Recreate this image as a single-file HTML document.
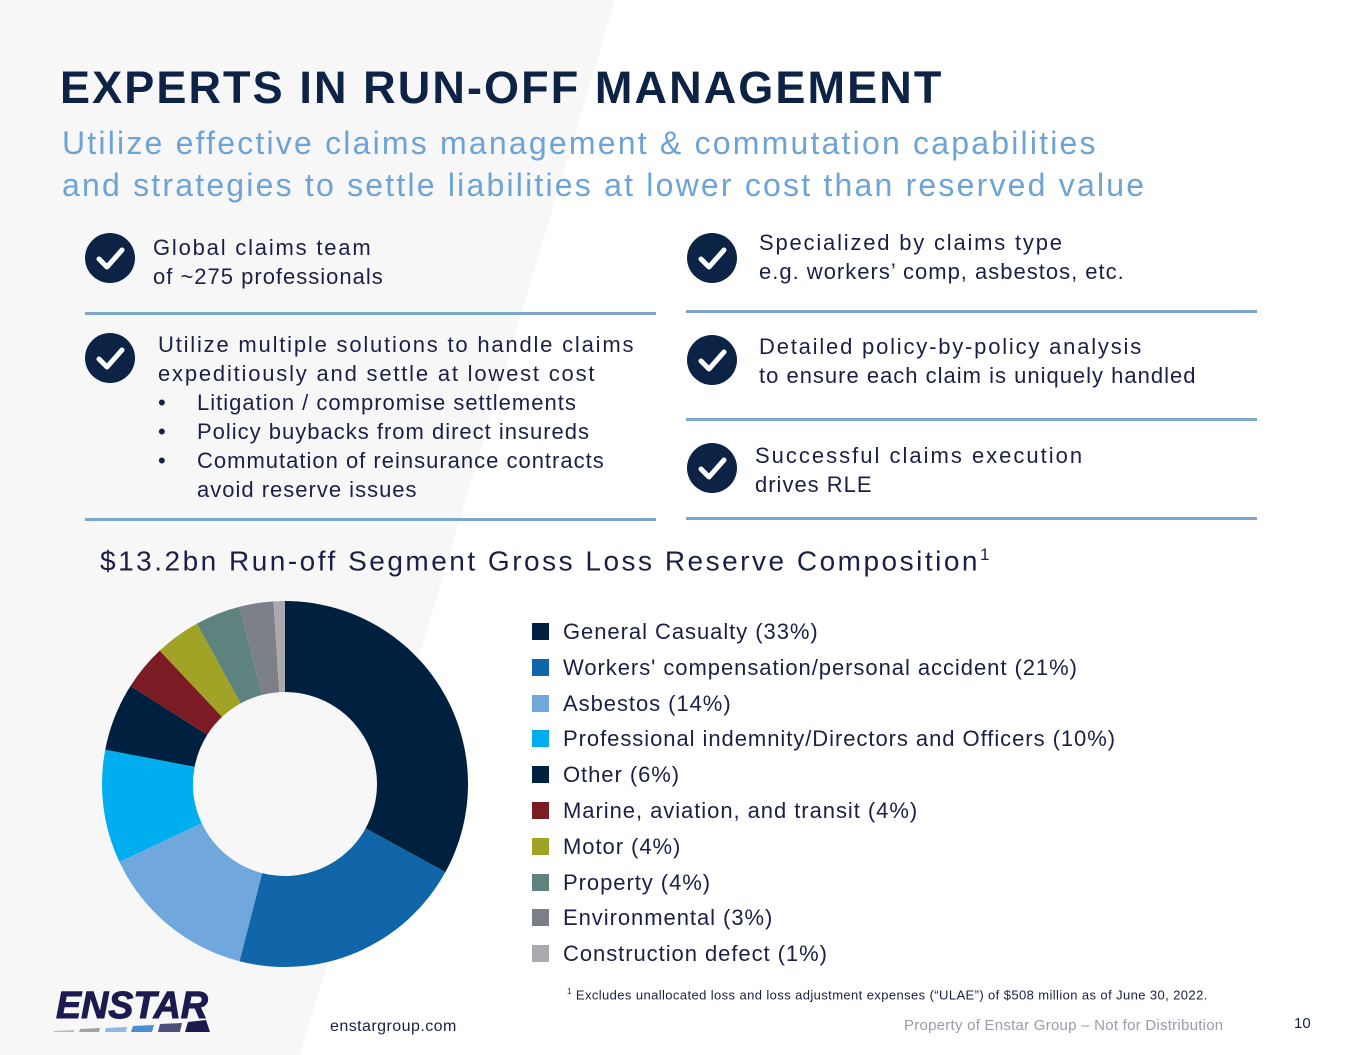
<!DOCTYPE html>
<html><head><meta charset="utf-8">
<style>
body{margin:0;width:1365px;height:1055px;position:relative;overflow:hidden;background:#fff;font-family:"Liberation Sans",sans-serif;color:#1c1f45}
.abs{position:absolute}
.t{font-size:22px;line-height:29px;color:#1c1f45;letter-spacing:1px;white-space:nowrap}
.t .h{letter-spacing:1.8px}
.bl{position:relative;padding-left:39px}
.bl b{position:absolute;left:0;font-weight:normal}
.chk{position:absolute;width:50px;height:50px;border-radius:50%;background:#0c2345}
.chk svg{position:absolute;left:0;top:0}
.rule{position:absolute;height:3px;background:#7ea6cc}
.leg{position:absolute;left:532px;font-size:22px;color:#1c1f45;letter-spacing:0.95px}
.leg span.sw{position:absolute;left:0;top:4px;width:17px;height:17px}
.leg span.lb{position:absolute;left:31px;top:0;white-space:nowrap}
</style></head><body>
<svg class="abs" style="left:0;top:0" width="1365" height="1055"><polygon points="0,0 615,0 300,1055 0,1055" fill="#f7f7f8"/></svg>
<div class="abs" style="left:60px;top:62px;font-size:45px;font-weight:bold;color:#0c2345;white-space:nowrap;letter-spacing:2.1px">EXPERTS IN RUN-OFF MANAGEMENT</div>
<div class="abs" style="left:62px;top:122px;font-size:32px;line-height:42px;color:#6ea3d6;letter-spacing:2.2px;white-space:nowrap">Utilize effective claims management &amp; commutation capabilities<br>and strategies to settle liabilities at lower cost than reserved value</div>

<div class="chk" style="left:85px;top:233px"><svg width="50" height="50"><path d="M14 26 L22 34 L37 17" stroke="#fff" stroke-width="5" fill="none" stroke-linecap="round" stroke-linejoin="round"/></svg></div>
<div class="abs t" style="left:153px;top:233px"><span class="h">Global claims team</span><br>of ~275 professionals</div>
<div class="rule" style="left:85px;top:312px;width:571px"></div>

<div class="chk" style="left:85px;top:333px"><svg width="50" height="50"><path d="M14 26 L22 34 L37 17" stroke="#fff" stroke-width="5" fill="none" stroke-linecap="round" stroke-linejoin="round"/></svg></div>
<div class="abs t" style="left:158px;top:330px"><span class="h">Utilize multiple solutions to handle claims<br>expeditiously and settle at lowest cost</span></div>
<div class="abs t" style="left:158px;top:388px">
<div class="bl"><b>•</b>Litigation / compromise settlements</div>
<div class="bl"><b>•</b>Policy buybacks from direct insureds</div>
<div class="bl"><b>•</b>Commutation of reinsurance contracts</div>
<div class="bl">avoid reserve issues</div></div>
<div class="rule" style="left:85px;top:518px;width:571px"></div>

<div class="chk" style="left:687px;top:233px"><svg width="50" height="50"><path d="M14 26 L22 34 L37 17" stroke="#fff" stroke-width="5" fill="none" stroke-linecap="round" stroke-linejoin="round"/></svg></div>
<div class="abs t" style="left:759px;top:228px"><span class="h">Specialized by claims type</span><br>e.g. workers’ comp, asbestos, etc.</div>
<div class="rule" style="left:686px;top:310px;width:571px"></div>

<div class="chk" style="left:687px;top:335px"><svg width="50" height="50"><path d="M14 26 L22 34 L37 17" stroke="#fff" stroke-width="5" fill="none" stroke-linecap="round" stroke-linejoin="round"/></svg></div>
<div class="abs t" style="left:759px;top:332px"><span class="h">Detailed policy-by-policy analysis</span><br>to ensure each claim is uniquely handled</div>
<div class="rule" style="left:686px;top:418px;width:571px"></div>

<div class="chk" style="left:687px;top:443px"><svg width="50" height="50"><path d="M14 26 L22 34 L37 17" stroke="#fff" stroke-width="5" fill="none" stroke-linecap="round" stroke-linejoin="round"/></svg></div>
<div class="abs t" style="left:755px;top:441px"><span class="h" style="letter-spacing:2px">Successful claims execution</span><br>drives RLE</div>
<div class="rule" style="left:686px;top:517px;width:571px"></div>

<div class="abs" style="left:100px;top:545px;font-size:28px;letter-spacing:2.5px;color:#1c1f45;white-space:nowrap">$13.2bn Run-off Segment Gross Loss Reserve Composition<sup style="font-size:17px">1</sup></div>

<svg id="donut" class="abs" style="left:0;top:0" width="600" height="1000"></svg>
<div id="legend"></div>

<div class="abs" style="left:567px;top:987px;font-size:13px;color:#1c1f45;white-space:nowrap;letter-spacing:0.4px"><sup style="font-size:8px">1</sup> Excludes unallocated loss and loss adjustment expenses (“ULAE”) of $508 million as of June 30, 2022.</div>

<svg class="abs" style="left:54px;top:988px" width="160" height="46">
<text x="2" y="30" font-family="Liberation Sans" font-weight="bold" font-style="italic" font-size="38" fill="#1b1b4f" stroke="#1b1b4f" stroke-width="1" textLength="152" lengthAdjust="spacingAndGlyphs">ENSTAR</text>
<polygon points="0,43 20,42 20,44 0,44" fill="#bbb"/>
<polygon points="26,41 46,40 45,44 25,44" fill="#9ea3a8"/>
<polygon points="52,40 73,39 72,44 51,44" fill="#8fb9e3"/>
<polygon points="79,38 100,37 98,44 77,44" fill="#4a8fd0"/>
<polygon points="106,36 128,35 126,44 104,44" fill="#4c4f7a"/>
<polygon points="134,34 152,32 156,44 131,44" fill="#1b1b4f"/>
</svg>
<div class="abs" style="left:330px;top:1018px;font-size:16px;color:#1c1f45;letter-spacing:0.45px">enstargroup.com</div>
<div class="abs" style="left:904px;top:1017px;font-size:15px;color:#9a9ca6;letter-spacing:0.25px">Property of Enstar Group – Not for Distribution</div>
<div class="abs" style="left:1294px;top:1015px;font-size:15px;color:#1c1f45">10</div>

<script>
const categories=["General Casualty","Workers' compensation/personal accident","Asbestos","Professional indemnity/Directors and Officers","Other","Marine, aviation, and transit","Motor","Property","Environmental","Construction defect"];
const values=[33,21,14,10,6,4,4,4,3,1];
const colors=["#00203f","#1066a8","#70a8de","#00aeef","#00203f","#7b1c24","#a1a326","#5e837f","#7d7f88","#a9a9ae"];
const cx=285,cy=784,R=183,r=92;
const svg=document.getElementById('donut');
const total=values.reduce((a,b)=>a+b,0);
let acc=0;
function pt(a,rad){return [cx+rad*Math.sin(a),cy-rad*Math.cos(a)];}
values.forEach((v,i)=>{
  const a0=acc/total*2*Math.PI; acc+=v; const a1=acc/total*2*Math.PI;
  const lg=(a1-a0)>Math.PI?1:0;
  const [x0,y0]=pt(a0,R),[x1,y1]=pt(a1,R),[x2,y2]=pt(a1,r),[x3,y3]=pt(a0,r);
  const p=document.createElementNS('http://www.w3.org/2000/svg','path');
  p.setAttribute('d',`M${x0},${y0}A${R},${R} 0 ${lg} 1 ${x1},${y1}L${x2},${y2}A${r},${r} 0 ${lg} 0 ${x3},${y3}Z`);
  p.setAttribute('fill',colors[i]);
  
  
  svg.appendChild(p);
});
const leg=document.getElementById('legend');
categories.forEach((c,i)=>{
  const d=document.createElement('div');
  d.className='leg';
  d.style.top=(619+i*35.8)+'px';
  
  
  d.innerHTML='<span class="sw" style="background:'+colors[i]+'"></span><span class="lb">'+c+' ('+values[i]+'%)</span>';
  leg.appendChild(d);
});
</script>
</body></html>
